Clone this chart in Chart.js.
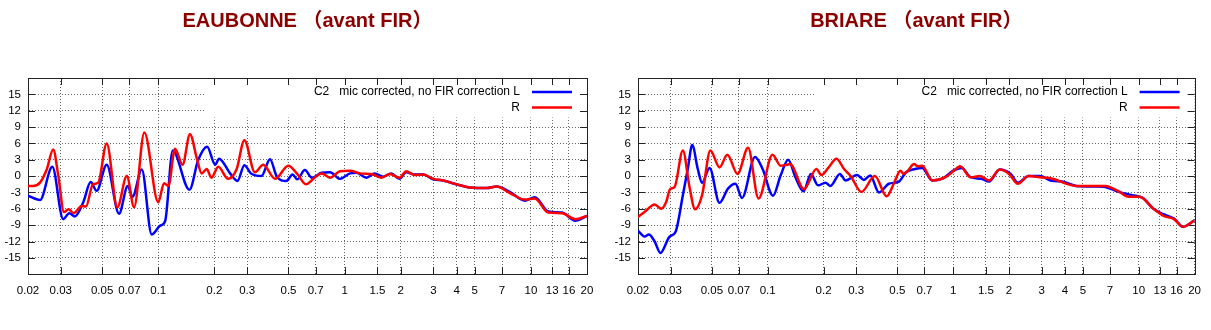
<!DOCTYPE html>
<html>
<head>
<meta charset="utf-8">
<script src="https://cdn.jsdelivr.net/npm/chart.js@4.4.0/dist/chart.umd.min.js"></script>
<style>
  body { margin: 0; background: #fff; }
  .panel { position: absolute; top: 0; }
</style>
</head>
<body>
<div class="panel" style="left:0"><canvas id="eaubonne" width="605" height="330"></canvas></div>
<div class="panel" style="left:605px"><canvas id="briare" width="606" height="330"></canvas></div>
<script>
// frequences en kHz, niveaux en dB
const xTickValues = [0.02, 0.03, 0.05, 0.07, 0.1, 0.2, 0.3, 0.5, 0.7, 1, 1.5, 2, 3, 4, 5, 7, 10, 13, 16, 20];
const yGridValues = [-18, -15, -12, -9, -6, -3, 0, 3, 6, 9, 12, 15, 18];
const yTickLabels = [-15, -12, -9, -6, -3, 0, 3, 6, 9, 12, 15];

const legendLabels = ['C2   mic corrected, no FIR correction L', 'R'];

// EAUBONNE
const eauFreqL = [0.02,0.0232,0.027,0.0309,0.0333,0.0357,0.0396,0.0434,0.0467,0.0529,0.0616,0.0686,0.0727,0.0816,0.0922,0.1024,0.109,0.1196,0.147,0.164,0.183,0.202,0.212,0.243,0.266,0.29,0.314,0.358,0.398,0.432,0.486,0.526,0.557,0.612,0.668,0.754,0.836,0.946,1.07,1.16,1.31,1.45,1.61,1.78,1.97,2.14,2.38,2.64,2.99,3.38,3.98,4.7,5.8,6.56,7.7,9.3,10.5,12.4,14.7,17.3,20];
const eauDbL = [-3.6,-4.4,1.7,-7.9,-6.8,-7.4,-4.8,-1.1,-2.7,2.1,-6.9,-1.8,-3.8,1.2,-10.7,-9.1,-8.2,4.7,-2.5,3.0,5.4,2.1,3.2,0.5,-0.9,2.0,0.5,0,3.1,0,-0.9,0.3,-0.6,1.1,-0.3,0.6,0.7,-0.5,0.5,0.6,-0.3,0.5,-0.1,0.5,-0.5,0.7,0.3,0.3,-0.6,-0.8,-1.5,-2.1,-2.2,-1.9,-2.9,-4.5,-3.9,-6.5,-6.7,-8.2,-7.3];
const eauFreqR = [0.02,0.0213,0.0232,0.0252,0.0273,0.0291,0.0312,0.033,0.0352,0.0389,0.0409,0.0446,0.0476,0.0529,0.0603,0.0678,0.0742,0.0842,0.1,0.1074,0.1134,0.123,0.135,0.148,0.161,0.171,0.182,0.193,0.21,0.237,0.263,0.29,0.33,0.366,0.424,0.499,0.557,0.62,0.69,0.754,0.836,0.946,1.07,1.21,1.42,1.58,1.75,1.97,2.14,2.38,2.64,2.99,3.38,3.98,4.7,5.8,6.56,7.7,9.3,10.5,12.4,14.7,17.3,20];
const eauDbR = [-1.8,-1.8,-1.2,1.2,4.9,0,-6.6,-6.1,-6.8,-5.5,-5.6,-1.5,-1.2,6.0,-5.7,0,-5.7,8.0,-4.8,-1.3,-1.8,5.0,2.1,7.7,3.3,0.5,1.3,-0.3,1.7,-0.5,1.2,6.6,0.7,2.1,-0.5,1.9,0.4,-1.5,-0.3,0.5,-0.3,0.9,1.0,0.5,0.3,-0.3,0.4,-0.3,0.9,0.2,0.3,-0.5,-0.8,-1.5,-2.1,-2.2,-1.9,-3.1,-4.3,-4.1,-6.7,-6.8,-7.9,-7.3];

// BRIARE
const briFreqL = [0.02,0.0217,0.0229,0.0246,0.0264,0.0296,0.0319,0.0349,0.0371,0.0392,0.042,0.0443,0.0486,0.055,0.0611,0.067,0.0727,0.0855,0.0939,0.1068,0.1174,0.129,0.141,0.156,0.171,0.187,0.205,0.218,0.245,0.263,0.303,0.33,0.357,0.398,0.45,0.51,0.557,0.622,0.68,0.77,0.88,1.0,1.11,1.24,1.42,1.56,1.78,2.04,2.23,2.55,2.93,3.35,4.0,4.6,6.0,6.6,7.8,9.2,10.5,12.0,13.6,15.5,17.3,20];
const briDbL = [-10.0,-11.1,-10.7,-12.0,-14.1,-11.1,-10.2,-3.5,1.3,5.7,1.3,-1.2,1.5,-4.9,-2.3,-1.4,-4.0,3.5,1.3,-3.6,0.1,3.0,-0.2,-2.8,0.4,-1.7,-1.2,-1.8,0.4,-0.8,0.2,-0.7,0.1,-3.0,-1.4,-1.0,0.7,1.3,1.5,-0.8,-0.4,1.0,1.5,-0.2,-0.5,-1.0,1.2,0.4,-1.2,0,0,-0.8,-1.1,-1.8,-1.9,-2.0,-2.9,-3.5,-4.0,-6.0,-7.0,-7.8,-9.3,-8.1];
const briFreqR = [0.02,0.0217,0.0246,0.0267,0.0284,0.0298,0.0315,0.0349,0.0379,0.0406,0.0443,0.0491,0.055,0.0606,0.0688,0.0784,0.0893,0.1062,0.1174,0.127,0.132,0.157,0.183,0.195,0.212,0.235,0.258,0.28,0.32,0.378,0.438,0.478,0.52,0.54,0.57,0.615,0.645,0.68,0.77,0.91,1.0,1.09,1.24,1.39,1.56,1.78,2.0,2.23,2.55,2.93,3.35,4.6,6.0,6.6,7.8,8.8,10.1,12.0,13.6,15.5,17.3,20];
const briDbR = [-7.5,-6.6,-5.2,-6.0,-4.7,-2.4,-2.0,4.7,-2.0,-6.1,-3.5,4.7,1.6,3.9,0.4,5.2,-4.1,3.9,1.9,2.1,2.2,-2.4,1.3,0.2,1.5,3.2,1.3,0,-2.9,0,-3.7,-1.4,1.0,0.4,1.0,2.2,1.8,1.9,-0.8,-0.2,0.9,1.8,-0.2,0,-0.8,1.2,0.4,-1.4,0,-0.2,-0.4,-1.8,-1.8,-1.8,-2.8,-3.8,-3.8,-6.0,-7.3,-7.9,-9.3,-8.1];

const fontFamily = 'Arial, "Liberation Sans", "Noto Sans CJK SC", sans-serif';
const colorL = '#0000ff';
const colorR = '#ff0000';

function points(freqs, dbs) {
    return freqs.map((f, i) => ({ x: f, y: dbs[i] }));
}

// cadre, petits traits de graduation et legende facon gnuplot
const gnuplotFrame = {
    id: 'gnuplotFrame',
    beforeDatasetsDraw(chart) {
        const { ctx, chartArea: a, scales } = chart;
        ctx.save();
        // fond blanc de la legende (cache la grille)
        ctx.fillStyle = '#fff';
        ctx.fillRect(a.left + 177, a.top + 0.5, a.right - a.left - 177, 39);

        ctx.strokeStyle = '#222';
        ctx.lineWidth = 1;
        ctx.beginPath();
        xTickValues.forEach(v => {
            const x = Math.round(scales.x.getPixelForValue(v)) + 0.5;
            ctx.moveTo(x, a.bottom); ctx.lineTo(x, a.bottom - 7);
            ctx.moveTo(x, a.top); ctx.lineTo(x, a.top + 7);
        });
        yTickLabels.forEach(v => {
            const y = Math.round(scales.y.getPixelForValue(v)) + 0.5;
            ctx.moveTo(a.left, y); ctx.lineTo(a.left + 7, y);
            ctx.moveTo(a.right, y); ctx.lineTo(a.right - 7, y);
        });
        ctx.stroke();
        ctx.strokeRect(Math.round(a.left) + 0.5, Math.round(a.top) + 0.5,
            Math.round(a.right - a.left), Math.round(a.bottom - a.top));

        // legende
        ctx.font = '12px ' + fontFamily;
        ctx.fillStyle = '#000';
        ctx.textAlign = 'right';
        ctx.textBaseline = 'middle';
        [colorL, colorR].forEach((c, i) => {
            const y = a.top + 14 + i * 15.5;
            ctx.fillText(legendLabels[i], a.right - 67, y);
            ctx.strokeStyle = c;
            ctx.lineWidth = 2.5;
            ctx.beginPath();
            ctx.moveTo(a.right - 55, y); ctx.lineTo(a.right - 15, y);
            ctx.stroke();
        });
        ctx.restore();
    }
};

function makeChart(id, title, dataL, dataR, yWidth, padRight) {
    return new Chart(document.getElementById(id), {
        type: 'line',
        data: {
            datasets: [{
                label: 'L',
                data: dataL,
                borderColor: colorL,
                borderWidth: 2.5,
                pointRadius: 0,
                cubicInterpolationMode: 'monotone',
                order: 1
            }, {
                label: 'R',
                data: dataR,
                borderColor: colorR,
                borderWidth: 2.5,
                pointRadius: 0,
                cubicInterpolationMode: 'monotone',
                order: 0
            }]
        },
        options: {
            responsive: false,
            animation: false,
            layout: { padding: { left: 0, right: padRight, top: 0, bottom: 22 } },
            plugins: {
                legend: { display: false },
                tooltip: { enabled: false },
                title: {
                    display: true,
                    fullSize: false,
                    text: title,
                    color: '#8b0000',
                    font: { size: 20, weight: 'bold', family: fontFamily },
                    padding: { top: 9, bottom: 45 }
                }
            },
            scales: {
                x: {
                    type: 'logarithmic',
                    min: 0.02,
                    max: 20,
                    afterBuildTicks: axis => { axis.ticks = xTickValues.map(v => ({ value: v })); },
                    ticks: {
                        autoSkip: false,
                        maxRotation: 0,
                        padding: 10,
                        color: '#000',
                        font: { size: 11.5, family: fontFamily },
                        callback: v => String(v)
                    },
                    grid: { color: '#666', drawTicks: false },
                    border: { color: '#222', dash: [1, 2] }
                },
                y: {
                    min: -18,
                    max: 18,
                    afterBuildTicks: axis => { axis.ticks = yGridValues.map(v => ({ value: v })); },
                    afterFit: axis => { axis.width = yWidth; },
                    ticks: {
                        autoSkip: false,
                        padding: 7,
                        color: '#000',
                        font: { size: 11.5, family: fontFamily },
                        callback: v => yTickLabels.includes(v) ? String(v) : ''
                    },
                    grid: { color: '#666', drawTicks: false },
                    border: { color: '#222', dash: [1, 2] }
                }
            }
        },
        plugins: [gnuplotFrame]
    });
}

makeChart('eaubonne', 'EAUBONNE （avant FIR）', points(eauFreqL, eauDbL), points(eauFreqR, eauDbR), 28, 18);
makeChart('briare', 'BRIARE （avant FIR）', points(briFreqL, briDbL), points(briFreqR, briDbR), 33, 15);
</script>
</body>
</html>
